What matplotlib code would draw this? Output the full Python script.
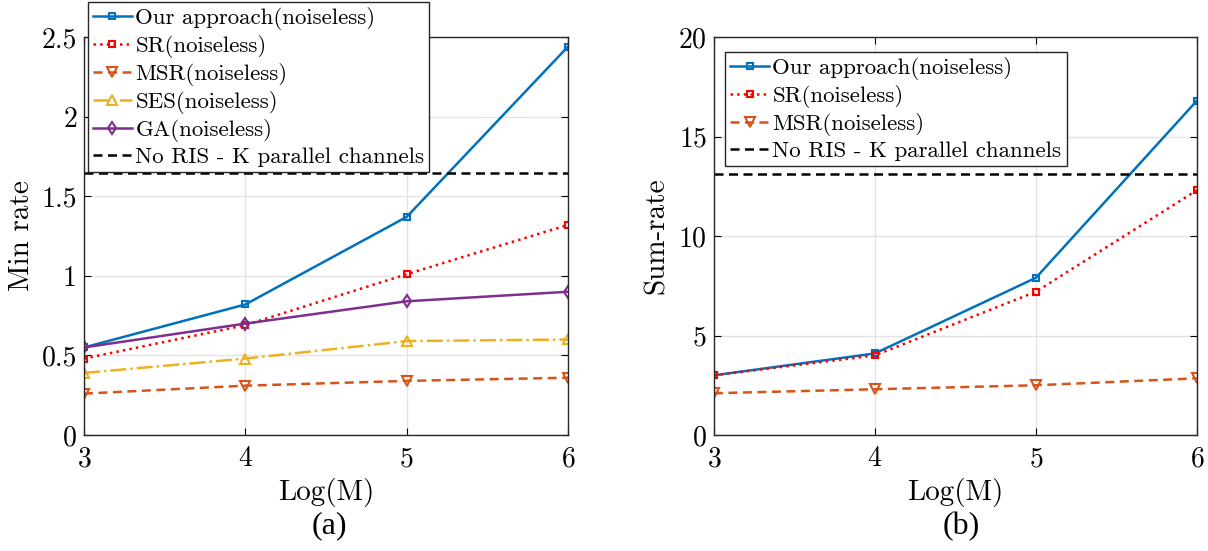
import matplotlib.pyplot as plt

# x values
log_m = [3, 4, 5, 6]

# (a) min rate
min_ours = [0.55, 0.82, 1.37, 2.44]
min_sr = [0.48, 0.69, 1.01, 1.32]
min_msr = [0.26, 0.31, 0.34, 0.36]
min_ses = [0.39, 0.48, 0.59, 0.60]
min_ga = [0.55, 0.70, 0.84, 0.90]
min_noris = 1.645

# (b) sum rate
sum_ours = [3.0, 4.1, 7.9, 16.8]
sum_sr = [3.0, 4.0, 7.2, 12.3]
sum_msr = [2.1, 2.3, 2.5, 2.85]
sum_noris = 13.1

plt.rcParams['font.family'] = ['cmr10', 'DejaVu Serif']
plt.rcParams['axes.formatter.use_mathtext'] = True
plt.rcParams['mathtext.fontset'] = 'cm'

BLUE = '#0072BD'
RED = '#FF0000'
ORANGE = '#D95319'
YELLOW = '#EDB120'
PURPLE = '#7E2F8E'

fig = plt.figure(figsize=(12.08, 5.51), dpi=100)
ax1 = fig.add_axes([0.0695, 0.2105, 0.4007, 0.7223])
ax2 = fig.add_axes([0.591, 0.2105, 0.3998, 0.7223])


def style_axes(ax):
    ax.grid(True, color='#e3e3e3', linewidth=1.0)
    ax.set_axisbelow(True)
    ax.tick_params(direction='in', top=True, right=True, labelsize=20,
                   length=5, width=0.8)
    ax.tick_params(axis='x', pad=8)
    ax.tick_params(axis='y', pad=5)
    for s in ax.spines.values():
        s.set_linewidth(1.0)
        s.set_color('#262626')
    ax.set_xlim(3, 6)
    ax.set_xticks(log_m)
    ax.set_xlabel('Log(M)', fontsize=21, labelpad=4)


def add_legend(ax, anchor):
    leg = ax.legend(loc='upper left', bbox_to_anchor=anchor, fontsize=16.5,
                    handlelength=1.7, handletextpad=0.15, borderpad=0.22,
                    labelspacing=0.22, borderaxespad=0.0, fancybox=False,
                    framealpha=1, edgecolor='#262626')
    leg.get_frame().set_linewidth(1.0)


lw = 1.8
dash = (0, (3.6, 2.2))
ax1.plot(log_m, min_ours, '-s', color=BLUE, lw=lw, ms=5, mfc='none', mew=1.5,
         label='Our approach(noiseless)')
ax1.plot(log_m, min_sr, ':s', color=RED, lw=lw, ms=5, mfc='none', mew=1.5,
         label='SR(noiseless)')
ax1.plot(log_m, min_msr, marker='v', ls=dash, color=ORANGE, lw=lw, ms=7,
         mfc='none', mew=1.5, label='MSR(noiseless)')
ax1.plot(log_m, min_ses, '-.^', color=YELLOW, lw=lw, ms=7, mfc='none', mew=1.5,
         label='SES(noiseless)')
ax1.plot(log_m, min_ga, '-d', color=PURPLE, lw=lw, ms=6, mfc='none', mew=1.5,
         label='GA(noiseless)')
ax1.axhline(min_noris, color='black', ls=dash, lw=lw,
            label='No RIS - K parallel channels')
style_axes(ax1)
ax1.set_ylim(0, 2.5)
ax1.set_yticks([0, 0.5, 1, 1.5, 2, 2.5])
ax1.set_yticklabels(['0', '0.5', '1', '1.5', '2', '2.5'])
ax1.set_ylabel('Min rate', fontsize=21, labelpad=5)
add_legend(ax1, (0.008, 1.088))

ax2.plot(log_m, sum_ours, '-s', color=BLUE, lw=lw, ms=5, mfc='none', mew=1.5,
         label='Our approach(noiseless)')
ax2.plot(log_m, sum_sr, ':s', color=RED, lw=lw, ms=5, mfc='none', mew=1.5,
         label='SR(noiseless)')
ax2.plot(log_m, sum_msr, marker='v', ls=dash, color=ORANGE, lw=lw, ms=7,
         mfc='none', mew=1.5, label='MSR(noiseless)')
ax2.axhline(sum_noris, color='black', ls=dash, lw=lw,
            label='No RIS - K parallel channels')
style_axes(ax2)
ax2.set_ylim(0, 20)
ax2.set_yticks([0, 5, 10, 15, 20])
ax2.set_ylabel('Sum-rate', fontsize=21, labelpad=6)
add_legend(ax2, (0.023, 0.962))

fig.text(0.273, 0.045, '(a)', fontsize=23, family='Liberation Serif',
         ha='center', va='center')
fig.text(0.796, 0.045, '(b)', fontsize=23, family='Liberation Serif',
         ha='center', va='center')

fig.savefig('out.png', dpi=100)
